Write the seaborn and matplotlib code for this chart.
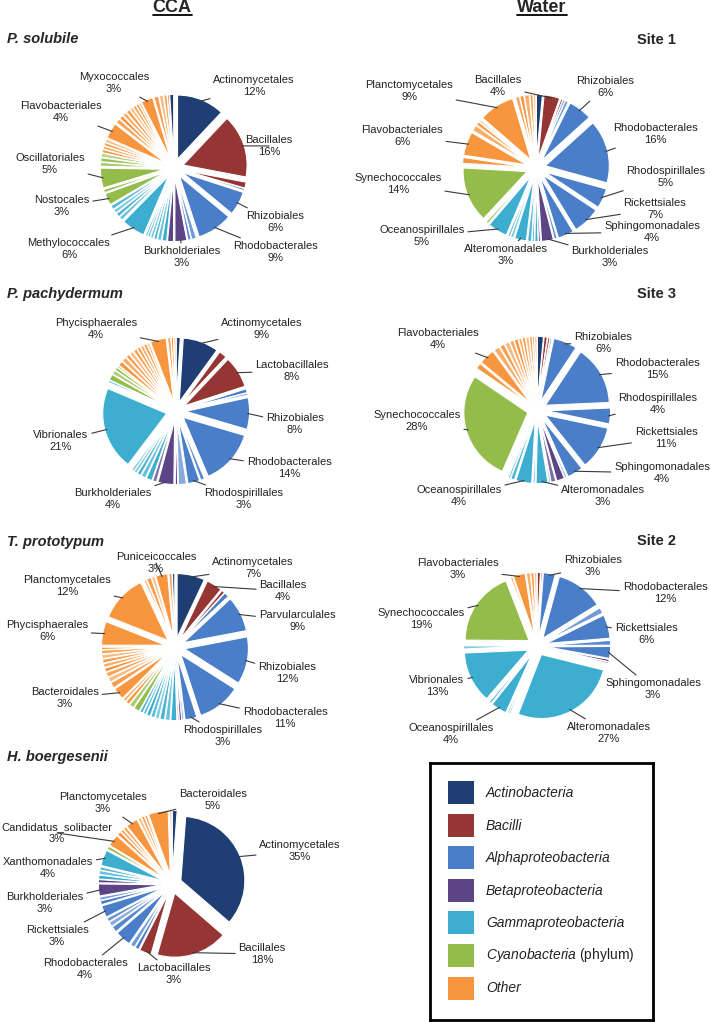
import numpy as np
import matplotlib
matplotlib.use("Agg")
import matplotlib.pyplot as plt
import seaborn as sns
from matplotlib.colors import to_rgb
from matplotlib.lines import Line2D
from matplotlib.patches import Rectangle

sns.set_style("white")
plt.rcParams["font.family"] = ["Liberation Sans", "DejaVu Sans"]
plt.rcParams["mathtext.fontset"] = "custom"
plt.rcParams["mathtext.it"] = "Liberation Sans:italic"
plt.rcParams["mathtext.rm"] = "Liberation Sans"

# -------------------------
# Data (slices clockwise from 12 o'clock, values in %)
# A Actinobacteria, B Bacilli, L Alpha, P Beta, G Gamma, C Cyanobacteria, O Other
# -------------------------

class_codes = ["A", "B", "L", "P", "G", "C", "O"]
class_hex = ["#1F3F74", "#953534", "#4A7EC8", "#5C4587", "#3DAED0", "#93BC4B", "#F7963F"]

# P. solubile
sol_groups = ["A", "B", "B", "L", "L", "L", "L", "L", "P", "P",
              "G", "G", "G", "G", "G", "G", "G", "G", "G", "G", "G",
              "C", "C", "C", "C", "C", "C",
              "O", "O", "O", "O", "O", "O", "O", "O", "O", "O", "O", "O", "O",
              "O", "O", "O", "O", "O", "A"]
sol_values = [12, 16, 1.5, 0.5, 6, 9, 1.2, 0.8, 3, 1.5,
              1.2, 1, 0.8, 0.8, 0.6, 0.5, 6, 1, 1, 1, 1.1,
              3, 0.8, 5, 1, 1, 1,
              0.8, 0.8, 0.8, 0.8, 4, 1.2, 1, 1, 1, 0.8, 0.8, 0.7, 0.5,
              3, 1.2, 1, 0.8, 0.5, 1]
sol_labels = ["Actinomycetales", "Bacillales", "", "", "Rhizobiales", "Rhodobacterales", "", "", "Burkholderiales", "",
              "", "", "", "", "", "", "Methylococcales", "", "", "", "",
              "Nostocales", "", "Oscillatoriales", "", "", "",
              "", "", "", "", "Flavobacteriales", "", "", "", "", "", "", "", "",
              "Myxococcales", "", "", "", "", ""]

# Site 1
s1_groups = ["A", "B", "B", "L", "L", "L", "L", "L", "L", "L", "L",
             "P", "P", "G", "G", "G", "G", "G", "G", "G",
             "C", "C", "O", "O", "O", "O", "O", "O", "O", "O", "O", "O", "O"]
s1_values = [1.5, 4, 0.5, 0.5, 0.8, 6, 16, 5, 7, 4, 0.7,
             3, 0.5, 0.8, 0.6, 1, 3, 0.8, 0.6, 5,
             0.6, 14, 1.5, 6, 1.5, 1, 0.5, 9, 1, 1, 1.2, 0.8, 0.6]
s1_labels = ["", "Bacillales", "", "", "", "Rhizobiales", "Rhodobacterales", "Rhodospirillales",
             "Rickettsiales", "Sphingomonadales", "",
             "Burkholderiales", "", "", "", "", "Alteromonadales", "", "", "Oceanospirillales",
             "", "Synechococcales", "", "Flavobacteriales", "", "", "", "Planctomycetales", "", "", "", "", ""]

# P. pachydermum
pac_groups = ["A", "A", "B", "B", "L", "L", "L", "L", "L", "L", "L",
              "P", "P", "P", "G", "G", "G", "G", "G", "G", "G",
              "C", "C", "C", "C",
              "O", "O", "O", "O", "O", "O", "O", "O", "O", "O", "O", "O", "O"]
pac_values = [1, 9, 2, 8, 1, 0.5, 8, 14, 1, 3, 2,
              0.6, 4, 1, 1.5, 1.2, 1, 0.8, 0.6, 21, 0.5,
              1.5, 1, 0.8, 0.5,
              1.2, 1.2, 1, 1, 1, 0.8, 0.8, 0.8, 0.6, 4, 0.8, 0.6, 0.5]
pac_labels = ["", "Actinomycetales", "", "Lactobacillales", "", "", "Rhizobiales", "Rhodobacterales", "",
              "Rhodospirillales", "",
              "", "Burkholderiales", "", "", "", "", "", "", "Vibrionales", "",
              "", "", "", "",
              "", "", "", "", "", "", "", "", "", "Phycisphaerales", "", "", ""]

# Site 3
s3_groups = ["A", "B", "B", "L", "L", "L", "L", "L", "L", "L",
             "P", "P", "G", "G", "G", "G", "G", "G",
             "C", "O", "O", "O", "O", "O", "O", "O", "O", "O", "O", "O", "O", "O"]
s3_values = [1.5, 0.8, 0.6, 0.4, 6, 15, 4, 11, 4, 0.5,
             2, 1.2, 0.4, 3, 0.5, 4, 1, 0.6,
             28, 1.5, 4, 1.5, 1.2, 1.2, 1, 1, 0.8, 0.8, 0.8, 0.7, 0.5, 0.5]
s3_labels = ["", "", "", "", "Rhizobiales", "Rhodobacterales", "Rhodospirillales", "Rickettsiales",
             "Sphingomonadales", "",
             "", "", "", "Alteromonadales", "", "Oceanospirillales", "", "",
             "Synechococcales", "", "Flavobacteriales", "", "", "", "", "", "", "", "", "", "", ""]

# T. prototypum
pro_groups = ["A", "B", "B", "L", "L", "L", "L", "L", "L", "P", "P",
              "G", "G", "G", "G", "G", "G", "G", "G", "C", "C",
              "O", "O", "O", "O", "O", "O", "O", "O", "O", "O", "O",
              "O", "O", "O", "O", "O", "O", "O", "O", "A"]
pro_values = [7, 4, 0.8, 1.2, 9, 12, 11, 3, 0.5, 0.6, 0.4,
              1.5, 1.2, 1.2, 1, 1, 1, 0.8, 0.8, 1.5, 1.2,
              1, 0.8, 3, 1.5, 1.2, 1.2, 1, 1, 1, 1, 1,
              0.6, 6, 12, 0.6, 1.2, 0.8, 3, 0.8, 0.6]
pro_labels = ["Actinomycetales", "Bacillales", "", "", "Parvularculales", "Rhizobiales", "Rhodobacterales",
              "Rhodospirillales", "", "", "",
              "", "", "", "", "", "", "", "", "", "",
              "", "", "Bacteroidales", "", "", "", "", "", "", "", "",
              "", "Phycisphaerales", "Planctomycetales", "", "", "", "Puniceicoccales", "", ""]

# Site 2
s2_groups = ["B", "L", "L", "L", "L", "L", "L", "L", "P", "P",
             "G", "G", "G", "G", "G", "G", "G",
             "C", "O", "O", "O", "O", "O"]
s2_values = [0.8, 0.4, 3, 12, 1.5, 6, 1.2, 3, 0.6, 0.4,
             27, 0.4, 0.4, 4, 0.6, 13, 0.8,
             19, 0.5, 3, 1, 0.8, 0.6]
s2_labels = ["", "", "Rhizobiales", "Rhodobacterales", "", "Rickettsiales", "", "Sphingomonadales", "", "",
             "Alteromonadales", "", "", "Oceanospirillales", "", "Vibrionales", "",
             "Synechococcales", "", "Flavobacteriales", "", "", ""]

# H. boergesenii
boe_groups = ["A", "A", "B", "B", "L", "L", "L", "L", "L", "L", "L", "L", "L",
              "P", "P", "G", "G", "G", "G", "C",
              "O", "O", "O", "O", "O", "O", "O", "O", "O", "O"]
boe_values = [1.2, 35, 18, 3, 1, 1.2, 4, 1.5, 1.2, 1, 3, 1, 0.8,
              3, 0.8, 1, 1, 0.8, 4, 0.8,
              3, 1, 0.8, 0.8, 3, 0.8, 0.8, 0.6, 5, 0.5]
boe_labels = ["", "Actinomycetales", "Bacillales", "Lactobacillales", "", "", "Rhodobacterales", "", "", "",
              "Rickettsiales", "", "",
              "Burkholderiales", "", "", "", "", "Xanthomonadales", "",
              "Candidatus_solibacter", "", "", "", "Planctomycetales", "", "", "", "Bacteroidales", ""]

# -------------------------
# Layout (pixels)
# -------------------------

W, H = 711, 1022
EXPLODE = 0.15
S = 64.0          # pixels per pie radius unit

fig = plt.figure(figsize=(W / 100, H / 100), dpi=100)


def fx(x):
    return x / W


def fy(y):
    return 1 - y / H


palette = dict(zip(class_codes, sns.color_palette(class_hex)))
tints = [0.0, 0.22, 0.08, 0.35, 0.15]


def slice_colors(groups, labels):
    counts = {}
    out = []
    for g, lab in zip(groups, labels):
        base = np.array(to_rgb(palette[g]))
        if lab:
            t = 0.0
        else:
            k = counts.get(g, 0)
            counts[g] = k + 1
            t = tints[k % len(tints)]
        out.append(tuple(base + (1 - base) * t))
    return out


def draw_pie(cx, cy, groups, values, labels, text_xy):
    half = 85
    ax = fig.add_axes([fx(cx - half), fy(cy + half), 2 * half / W, 2 * half / H])
    wedges, _ = ax.pie(
        values,
        colors=slice_colors(groups, labels),
        startangle=90,
        counterclock=False,
        explode=[EXPLODE] * len(values),
        wedgeprops=dict(edgecolor="white", linewidth=0.8),
    )
    lim = half / S
    ax.set_xlim(-lim, lim)
    ax.set_ylim(-lim, lim)
    ax.set_aspect("equal")
    ax.axis("off")
    total = sum(values)
    for w, v, lab in zip(wedges, values, labels):
        if not lab:
            continue
        mid = np.deg2rad((w.theta1 + w.theta2) / 2)
        px = w.center[0] + 0.97 * w.r * np.cos(mid)
        py = w.center[1] + 0.97 * w.r * np.sin(mid)
        tx, ty = text_xy[lab]
        ax.annotate(
            f"{lab}\n{round(100 * v / total)}%",
            xy=(px, py),
            xytext=(fx(tx), fy(ty)),
            textcoords="figure fraction",
            ha="center", va="center",
            fontsize=8, color="#222222", linespacing=1.2,
            arrowprops=dict(arrowstyle="-", color="#3a3a3a", lw=0.8,
                            shrinkA=0, shrinkB=0),
        )


draw_pie(174, 168, sol_groups, sol_values, sol_labels, {
    "Actinomycetales": (254, 86), "Bacillales": (269, 146), "Rhizobiales": (275, 222),
    "Rhodobacterales": (275, 252), "Burkholderiales": (182, 257), "Methylococcales": (69, 249),
    "Nostocales": (62, 206), "Oscillatoriales": (50, 164), "Flavobacteriales": (61, 112),
    "Myxococcales": (114, 83)})

draw_pie(536, 168, s1_groups, s1_values, s1_labels, {
    "Planctomycetales": (409, 91), "Bacillales": (498, 86), "Rhizobiales": (605, 87),
    "Rhodobacterales": (655, 134), "Rhodospirillales": (666, 177), "Rickettsiales": (655, 209),
    "Sphingomonadales": (652, 232), "Burkholderiales": (610, 257), "Alteromonadales": (506, 255),
    "Oceanospirillales": (422, 236), "Synechococcales": (398, 184), "Flavobacteriales": (402, 136)})

draw_pie(176, 411, pac_groups, pac_values, pac_labels, {
    "Phycisphaerales": (96, 329), "Actinomycetales": (262, 329), "Lactobacillales": (292, 371),
    "Rhizobiales": (295, 424), "Rhodobacterales": (289, 468), "Rhodospirillales": (244, 499),
    "Burkholderiales": (113, 499), "Vibrionales": (61, 441)})

draw_pie(537, 410, s3_groups, s3_values, s3_labels, {
    "Flavobacteriales": (438, 339), "Rhizobiales": (603, 343), "Rhodobacterales": (657, 369),
    "Rhodospirillales": (658, 404), "Rickettsiales": (666, 438), "Sphingomonadales": (662, 473),
    "Alteromonadales": (603, 496), "Oceanospirillales": (459, 496), "Synechococcales": (417, 421)})

draw_pie(175, 647, pro_groups, pro_values, pro_labels, {
    "Puniceicoccales": (156, 563), "Actinomycetales": (253, 568), "Bacillales": (283, 591),
    "Parvularculales": (297, 621), "Rhizobiales": (287, 673), "Rhodobacterales": (285, 718),
    "Rhodospirillales": (223, 736), "Bacteroidales": (65, 698), "Phycisphaerales": (47, 631),
    "Planctomycetales": (67, 586)})

draw_pie(537, 646, s2_groups, s2_values, s2_labels, {
    "Flavobacteriales": (458, 569), "Rhizobiales": (593, 566), "Rhodobacterales": (665, 593),
    "Rickettsiales": (646, 634), "Sphingomonadales": (653, 689), "Alteromonadales": (609, 733),
    "Oceanospirillales": (451, 734), "Vibrionales": (437, 686), "Synechococcales": (421, 619)})

draw_pie(172, 884, boe_groups, boe_values, boe_labels, {
    "Bacteroidales": (213, 800), "Planctomycetales": (103, 803), "Candidatus_solibacter": (57, 833),
    "Xanthomonadales": (48, 868), "Burkholderiales": (45, 903), "Rickettsiales": (57, 936),
    "Rhodobacterales": (85, 969), "Lactobacillales": (174, 974), "Bacillales": (262, 954),
    "Actinomycetales": (300, 851)})

# -------------------------
# Titles
# -------------------------

t_cca = fig.text(fx(172), fy(8), "CCA", ha="center", va="center", fontsize=13, fontweight="bold")
t_wat = fig.text(fx(542), fy(8), "Water", ha="center", va="center", fontsize=13, fontweight="bold")

for txt, y in [("P. solubile", 39), ("P. pachydermum", 294), ("T. prototypum", 542), ("H. boergesenii", 757)]:
    fig.text(fx(7), fy(y), txt, ha="left", va="center", fontsize=10.5, fontweight="bold", fontstyle="italic")

for txt, y in [("Site 1", 40), ("Site 3", 294), ("Site 2", 541)]:
    fig.text(fx(676), fy(y), txt, ha="right", va="center", fontsize=10.5, fontweight="bold")

fig.canvas.draw()
rend = fig.canvas.get_renderer()
for t in (t_cca, t_wat):
    bb = t.get_window_extent(rend).transformed(fig.transFigure.inverted())
    fig.add_artist(Line2D([bb.x0, bb.x1], [bb.y0 + 0.001] * 2, color="black", lw=1.3,
                          transform=fig.transFigure))

# -------------------------
# Legend box
# -------------------------

bx0, by0, bx1, by1 = 430, 763, 653, 1020
lax = fig.add_axes([fx(bx0), fy(by1), (bx1 - bx0) / W, (by1 - by0) / H])
lax.set_xlim(0, bx1 - bx0)
lax.set_ylim(by1 - by0, 0)
lax.set_xticks([])
lax.set_yticks([])
for sp in lax.spines.values():
    sp.set_visible(True)
    sp.set_color("black")
    sp.set_linewidth(2)

legend_text = ["Actinobacteria", "Bacilli", "Alphaproteobacteria", "Betaproteobacteria",
               "Gammaproteobacteria", r"$\it{Cyanobacteria}$ (phylum)", "Other"]
for i, code in enumerate(class_codes):
    yc = 30 + i * 32.5
    lax.add_patch(Rectangle((18, yc - 11.5), 26, 23, facecolor=palette[code], edgecolor="none"))
    style = "normal" if "$" in legend_text[i] else "italic"
    lax.text(56, yc, legend_text[i], ha="left", va="center", fontsize=10, fontstyle=style, color="#222222")

fig.savefig("out.png", dpi=100)
